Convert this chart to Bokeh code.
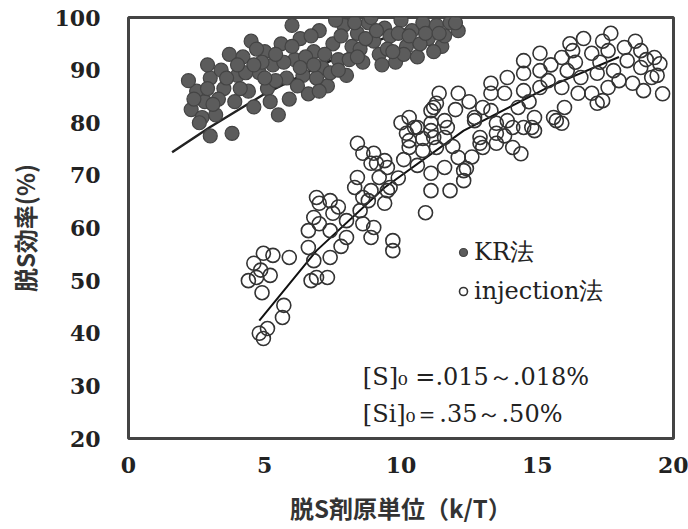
from bokeh.plotting import figure
from bokeh.models import Range1d, FixedTicker, Legend, LegendItem, Label
from bokeh.embed import file_html
from bokeh.resources import INLINE

# ---- data ----
kr_x = [2.3, 2.7, 3.0, 2.5, 2.2, 2.8, 3.0, 3.2, 3.8, 2.9, 3.5, 3.4, 3.9, 4.0, 4.2, 4.4,
        4.6, 4.8, 5.0, 5.1, 5.3, 5.5, 5.6, 5.8, 5.9, 6.1, 6.3, 6.4, 6.6, 6.8, 7.0, 7.1,
        7.3, 7.5, 7.7, 7.9, 8.0, 8.2, 8.4, 8.6, 8.8, 9.0, 9.2, 9.4, 9.6, 9.8, 10.0, 10.2,
        10.4, 10.6, 10.8, 11.0, 11.3, 11.5, 11.8, 12.1, 6.0, 4.5, 3.7, 7.6, 8.9, 2.6, 3.3,
        4.1, 4.9, 5.4, 6.2, 6.9, 7.2,
        2.4, 2.9, 3.6, 4.3, 4.7, 5.2, 5.7, 6.0, 6.5, 6.7, 7.0, 7.4, 7.8, 8.1, 8.3, 8.5,
        8.7, 9.1, 9.3, 9.5, 9.9, 10.1, 10.3, 10.7, 10.9, 11.2, 11.6, 12.0, 6.3, 7.7, 4.0,
        5.0, 3.1, 4.6, 5.4, 6.8, 8.4, 9.7, 11.4]
kr_y = [82.5, 81.0, 77.5, 86.0, 88.0, 84.0, 88.5, 81.5, 78.0, 91.0, 86.5, 90.0, 84.0, 89.0, 92.5, 86.0,
        83.0, 89.5, 93.5, 86.5, 91.0, 81.5, 95.0, 88.5, 84.5, 92.0, 96.0, 89.0, 85.5, 93.5, 97.5, 90.5,
        87.0, 95.0, 92.0, 98.5, 89.0, 94.5, 97.0, 91.5, 99.0, 95.5, 93.0, 98.0, 96.5, 91.5, 99.5, 94.5,
        97.5, 92.5, 99.0, 96.0, 98.5, 94.5, 99.0, 97.5, 98.5, 95.5, 93.0, 99.5, 100.0, 80.0, 84.5,
        86.5, 91.5, 88.0, 87.0, 88.5, 93.0,
        84.5, 86.5, 88.5, 89.5, 94.0, 84.0, 91.5, 94.5, 92.5, 96.5, 86.0, 89.5, 96.5, 92.0, 99.0, 94.0,
        96.0, 97.5, 91.0, 94.0, 97.0, 93.0, 96.5, 95.0, 97.0, 93.5, 96.5, 99.0, 90.5, 90.0, 91.0,
        88.5, 83.5, 91.0, 93.0, 91.0, 92.5, 93.5, 97.0]

inj_x = [4.95, 5.1, 4.8, 5.65, 5.7, 4.9, 4.4, 4.7, 5.2, 4.6, 4.95, 5.3, 5.9, 4.85, 6.9, 7.3,
         7.4, 6.7, 6.8, 6.6, 6.6, 7.0, 6.8, 7.0, 7.4, 6.9, 7.5, 7.4, 8.0, 8.0, 8.6, 8.9,
         9.0, 9.7, 9.7, 8.5, 8.8, 8.3, 8.9, 9.4, 9.5,
         10.9, 11.1, 11.8, 12.3, 12.4, 12.1, 11.6, 11.1, 10.6, 10.3, 10.2, 10.6, 11.1, 11.6, 11.3,
         10.8, 11.6, 11.1, 10.3, 11.3, 12.7, 12.9, 13.0, 13.5, 14.1, 14.4, 13.9, 14.5, 14.9, 13.3,
         14.3, 15.6, 15.9, 16.0, 17.2, 8.4, 8.6, 8.9, 8.4, 9.1, 9.5, 9.6, 9.2, 8.6, 9.0, 9.4,
         10.5, 11.1, 11.7, 10.3, 11.2, 12.3, 11.2, 11.4, 12.1, 12.7, 13.0, 13.3, 12.9, 13.5, 13.5,
         16.7, 17.7, 15.1, 14.5, 15.9, 16.3, 17.0, 17.6, 18.2, 18.8, 19.3, 19.5, 18.3, 18.8, 19.2,
         18.5, 18.9, 17.8, 17.2, 17.6, 17.0, 17.4, 16.6, 16.1, 15.9, 16.5, 15.7, 15.1, 14.5, 13.9,
         13.3, 15.1, 14.5, 13.8, 14.9, 14.1, 14.8, 19.6, 19.4,
         10.0, 10.8, 11.9, 12.6, 12.0, 12.5, 13.8, 14.7, 15.4, 15.5, 16.4, 17.3, 18.0, 18.6,
         19.0, 16.2, 17.4, 9.9, 10.1, 7.8, 7.7]
inj_y = [39.0, 40.9, 40.0, 43.0, 45.3, 47.7, 50.0, 50.6, 51.0, 53.3, 55.2, 54.8, 54.4, 52.0, 50.6, 50.6,
         54.4, 50.0, 53.8, 56.3, 59.5, 60.8, 62.0, 64.7, 65.2, 65.8, 62.8, 59.5, 58.2, 61.4, 60.8, 58.2,
         60.1, 57.6, 55.7, 63.3, 65.2, 67.7, 67.1, 64.7, 67.1,
         62.9, 67.1, 67.1, 69.0, 71.3, 73.4, 71.5, 70.4, 71.9, 75.3, 78.0, 79.1, 78.5, 77.2, 75.3,
         74.7, 80.4, 82.3, 81.0, 83.7, 81.0, 77.2, 75.3, 78.0, 75.3, 74.1, 80.4, 79.1, 78.5, 82.3,
         82.9, 81.0, 79.9, 82.9, 83.7, 76.1, 74.2, 72.3, 69.6, 72.3, 71.5, 67.7, 69.6, 65.8, 74.2, 72.8,
         79.1, 79.9, 79.1, 76.6, 77.2, 70.9, 82.9, 85.6, 85.6, 80.4, 82.9, 85.6, 76.1, 76.1, 79.9,
         96.0, 97.0, 93.2, 91.8, 92.4, 93.7, 93.2, 93.7, 94.3, 93.7, 92.4, 91.2, 91.8, 90.5, 88.6,
         87.5, 86.1, 89.9, 89.4, 86.7, 85.6, 84.2, 88.6, 89.9, 86.7, 85.6, 80.4, 89.9, 89.4, 88.6,
         87.5, 86.7, 86.1, 85.6, 81.0, 79.1, 79.1, 85.5, 89.0,
         80.0, 77.0, 75.5, 73.5, 82.5, 84.0, 77.5, 84.0, 88.0, 91.0, 91.5, 91.5, 88.0, 95.5,
         92.0, 95.0, 95.5, 69.5, 73.0, 56.5, 64.0]

kr_fit_x = [1.6, 3.0, 5.0, 7.5, 10.5]
kr_fit_y = [74.4, 79.2, 85.5, 92.0, 98.5]
inj_fit_x = [4.8, 6.9, 9.4, 12.3, 15.5, 18.0]
inj_fit_y = [42.4, 55.7, 67.7, 78.5, 87.0, 92.5]

x_ticks = [0, 5, 10, 15, 20]
y_ticks = [20, 30, 40, 50, 60, 70, 80, 90, 100]
x_title = "脱S剤原単位（k/T）"
y_title = "脱S効率(%)"
legend_labels = ["KR法", "injection法"]
notes = ["[S]₀ =.015～.018%", "[Si]₀＝.35～.50%"]

# ---- figure ----
p = figure(frame_width=545, frame_height=421,
           x_range=Range1d(0, 20), y_range=Range1d(20, 100),
           output_backend="svg", toolbar_location=None,
           min_border_left=128, min_border_right=15,
           min_border_top=17, min_border_bottom=91,
           background_fill_color="white", border_fill_color="white")

p.outline_line_color = "#444444"
p.outline_line_width = 3
p.xgrid.visible = False
p.ygrid.visible = False

tick_font = "DejaVu Serif"
for ax in (p.xaxis[0], p.yaxis[0]):
    ax.axis_line_color = None
    ax.major_tick_line_color = None
    ax.minor_tick_line_color = None
    ax.major_label_text_font = tick_font
    ax.major_label_text_font_style = "bold"
    ax.major_label_text_font_size = "22px"
    ax.major_label_text_color = "#222222"
    ax.axis_label_text_font = "Noto Sans CJK JP"
    ax.axis_label_text_font_style = "bold"
    ax.axis_label_text_font_size = "24px"
    ax.axis_label_text_color = "#333333"

p.xaxis.ticker = FixedTicker(ticks=x_ticks)
p.yaxis.ticker = FixedTicker(ticks=y_ticks)
p.xaxis.axis_label = x_title
p.yaxis.axis_label = y_title
p.xaxis.major_label_standoff = 12
p.xaxis.axis_label_standoff = 14
p.yaxis.major_label_standoff = 22
p.yaxis.axis_label_standoff = 10

p.line(kr_fit_x, kr_fit_y, line_color="#222222", line_width=2.5)
p.line(inj_fit_x, inj_fit_y, line_color="#111111", line_width=2)

kr = p.scatter(kr_x, kr_y, size=14, marker="circle",
               fill_color="#5c5c5c", line_color="#444444", line_width=1.2)
inj = p.scatter(inj_x, inj_y, size=14, marker="circle",
                fill_color=None, line_color="#333333", line_width=1.6)

legend = Legend(items=[LegendItem(label=legend_labels[0], renderers=[kr]),
                       LegendItem(label=legend_labels[1], renderers=[inj])],
                location=(325, 131), orientation="vertical",
                padding=0, margin=0, spacing=7,
                glyph_width=20, glyph_height=30, label_height=30,
                label_standoff=1,
                label_text_font="DejaVu Serif", label_text_font_size="24px",
                label_text_color="#222222",
                border_line_color=None, background_fill_alpha=0)
p.add_layout(legend)

for txt, yy in zip(notes, [31.6, 24.75]):
    p.add_layout(Label(x=8.6, y=yy, text=txt, text_font="DejaVu Serif",
                       text_font_size="24px", text_color="#222222",
                       text_baseline="middle", text_align="left"))

open("out.html", "w").write(file_html(p, INLINE))
